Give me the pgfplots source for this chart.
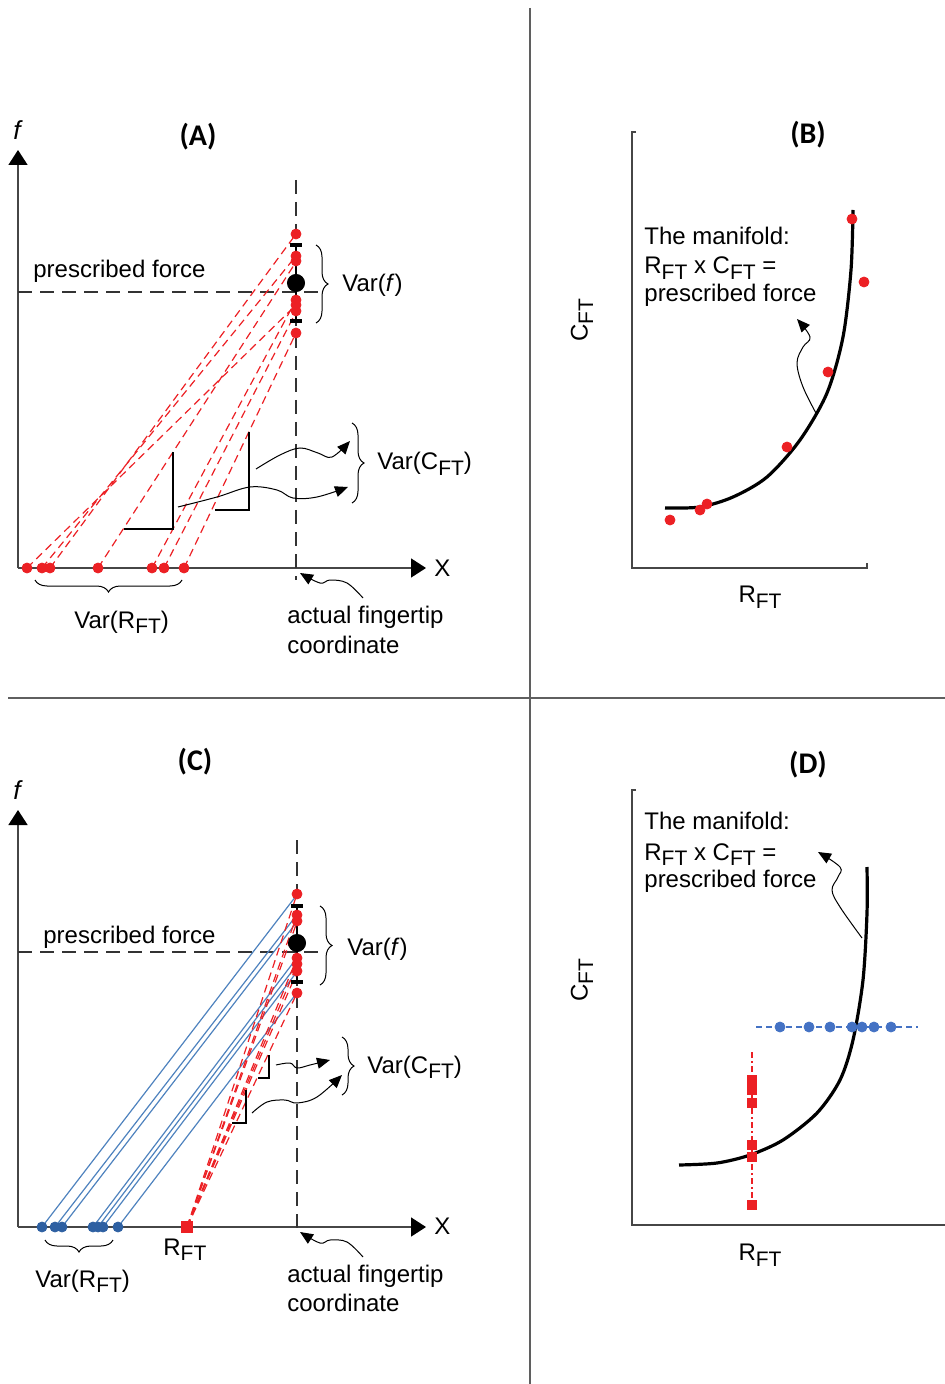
\documentclass[border=0pt]{standalone}
\usepackage{fontspec}
\setmainfont{Liberation Sans}
\newfontfamily\titlefont{Carlito}
\usepackage{pgfplots}
\pgfplotsset{compat=1.18}
\usetikzlibrary{arrows.meta,decorations.pathreplacing}
\definecolor{myred}{RGB}{236,32,36}
\definecolor{dotblue}{RGB}{46,96,162}
\definecolor{lineblue}{RGB}{78,130,190}
\definecolor{dblue}{RGB}{68,114,196}
\definecolor{axgray}{RGB}{70,70,70}
\definecolor{divgray}{RGB}{95,95,95}
\newcommand\sub[1]{\raisebox{-0.45ex}{\fontsize{10.5}{10}\selectfont #1}}
\tikzset{every node/.style={font=\fontsize{12}{14}\selectfont, inner sep=0pt}}
\pgfplotsset{
  rdash/.style={myred, line width=0.6pt, dash pattern=on 4pt off 2.5pt},
  kdash/.style={black!80, line width=0.8pt, dash pattern=on 7pt off 4pt},
  axl/.style={axgray, line width=0.8pt},
  axarrow/.style={axgray, line width=0.8pt, -{Triangle[width=9.5pt,length=7.5pt,color=black]}},
  wavy/.style={black, line width=0.5pt, smooth, tension=0.6, -{Triangle[width=5.5pt,length=6.5pt]}},
  rdot/.style={only marks, mark=*, mark size=2.5pt, myred, mark options={draw=myred, fill=myred}},
  brc/.style={black, line width=0.5pt, decorate, decoration={brace, amplitude=6pt}},
  rangle/.style={black, line width=1.1pt},
}
\begin{document}
\begin{tikzpicture}
\path[use as bounding box] (0,0) rectangle (472.5pt,692pt);
\begin{axis}[at={(0,0)}, anchor=south west, scale only axis, width=472.5pt, height=692pt,
  xmin=0, xmax=945, ymin=0, ymax=1384, y dir=reverse, hide axis, clip=false]

% dividers
\addplot[divgray, line width=1pt] coordinates {(530,8) (530,1384)};
\addplot[divgray, line width=1pt] coordinates {(8,698) (945,698)};

% ================= Panel A =================
\addplot[axarrow] coordinates {(18,568) (18,150)};
\addplot[axarrow] coordinates {(18,568) (426,568)};
\addplot[kdash] coordinates {(296,180) (296,580)};
\addplot[kdash] coordinates {(18,292) (322,292)};
% red dashed lines
\addplot[rdash] coordinates {(27,568) (296,305)};
\addplot[rdash] coordinates {(42,568) (296,256)};
\addplot[rdash] coordinates {(50,568) (296,234)};
\addplot[rdash] coordinates {(98,568) (296,262)};
\addplot[rdash] coordinates {(152,568) (296,300)};
\addplot[rdash] coordinates {(164,568) (296,312)};
\addplot[rdash] coordinates {(184,568) (296,333)};
% error bar and mean
\addplot[black, line width=1.2pt] coordinates {(296,245) (296,321)};
\addplot[black, line width=1.6pt] coordinates {(290,245) (302,245)};
\addplot[black, line width=1.6pt] coordinates {(290,321) (302,321)};
\addplot[rdot] coordinates {(296,234) (296,256) (296,261) (296,300) (296,305) (296,311) (296,333)};
\addplot[only marks, mark=*, mark size=4.3pt, black] coordinates {(296,283)};
\addplot[rdot] coordinates {(27,568) (42,568) (50,568) (98,568) (152,568) (164,568) (184,568)};
% right angles
\addplot[rangle] coordinates {(124,529) (173,529) (173,452)};
\addplot[rangle] coordinates {(215,510) (249,510) (249,432)};
% wavy arrows
\addplot[wavy] coordinates {(256,469) (280,455) (300,448) (318,453) (332,457) (350,441)};
\addplot[wavy] coordinates {(178,507) (217,497) (250,487) (277,490) (293,498) (317,497) (348,487)};
\addplot[wavy] coordinates {(363,598) (347,583) (330,580) (320,583) (300,573)};
% braces
\addplot[brc] coordinates {(316,245) (316,323)};
\addplot[brc] coordinates {(352,423) (352,503)};
\addplot[brc] coordinates {(182,580) (35,580)};
% texts
\node[font=\titlefont\bfseries\fontsize{15}{15}\selectfont] at (axis cs:198,137) {(A)};
\node[font=\itshape\fontsize{13}{13}\selectfont] at (axis cs:17,130) {f};
\node[anchor=base west] at (axis cs:33,278) {prescribed force};
\node[anchor=base west] at (axis cs:342,292) {Var(\textit{f})};
\node[anchor=base west] at (axis cs:377,470) {Var(C\sub{FT})};
\node[anchor=base west] at (axis cs:74,628) {Var(R\sub{FT})};
\node[anchor=base west] at (axis cs:287,623) {actual fingertip};
\node[anchor=base west] at (axis cs:287,653) {coordinate};
\node[anchor=base west] at (axis cs:434,576) {X};

% ================= Panel B =================
\addplot[axl] coordinates {(636,132) (632,132) (632,568) (867,568) (867,563)};
\addplot[black, line width=1.6pt, smooth] coordinates {(665,508) (700,507) (733,497) (767,477) (800,440) (827,393) (843,337) (851,270) (853,210)};
\addplot[rdot] coordinates {(670,520) (700,510) (707,504) (787,447) (828,372) (852,219) (864,282)};
\addplot[wavy] coordinates {(817,415) (803,387) (797,363) (803,347) (810,337) (797,319)};
\node[font=\titlefont\bfseries\fontsize{15}{15}\selectfont] at (axis cs:808,135) {(B)};
\node[anchor=base west] at (axis cs:644,245) {The manifold:};
\node[anchor=base west] at (axis cs:644,274) {R\sub{FT} x C\sub{FT} =};
\node[anchor=base west] at (axis cs:644,302) {prescribed force};
\node[rotate=90] at (axis cs:582,320) {C\sub{FT}};
\node at (axis cs:760,597) {R\sub{FT}};

% ================= Panel C =================
\addplot[axarrow] coordinates {(18,1227) (18,810)};
\addplot[axarrow] coordinates {(18,1227) (426,1227)};
\addplot[kdash] coordinates {(297,840) (297,1232)};
\addplot[kdash] coordinates {(18,952) (322,952)};
% blue lines
\addplot[lineblue, line width=0.6pt] coordinates {(42,1227) (296,896)};
\addplot[lineblue, line width=0.6pt] coordinates {(55,1227) (296,916)};
\addplot[lineblue, line width=0.6pt] coordinates {(62,1227) (296,923)};
\addplot[lineblue, line width=0.6pt] coordinates {(93,1227) (296,959)};
\addplot[lineblue, line width=0.6pt] coordinates {(98,1227) (296,966)};
\addplot[lineblue, line width=0.6pt] coordinates {(103,1227) (296,973)};
\addplot[lineblue, line width=0.6pt] coordinates {(118,1227) (296,994)};
% red dashed lines from R_FT
\addplot[rdash] coordinates {(187,1227) (297,894)};
\addplot[rdash] coordinates {(187,1227) (297,915)};
\addplot[rdash] coordinates {(187,1227) (297,922)};
\addplot[rdash] coordinates {(187,1227) (297,958)};
\addplot[rdash] coordinates {(187,1227) (297,965)};
\addplot[rdash] coordinates {(187,1227) (297,972)};
\addplot[rdash] coordinates {(187,1227) (297,993)};
% error bar and mean
\addplot[black, line width=1.2pt] coordinates {(297,906) (297,982)};
\addplot[black, line width=1.6pt] coordinates {(291,906) (303,906)};
\addplot[black, line width=1.6pt] coordinates {(291,982) (303,982)};
\addplot[rdot] coordinates {(297,894) (297,915) (297,921) (297,958) (297,964) (297,971) (297,993)};
\addplot[only marks, mark=*, mark size=4.3pt, black] coordinates {(297,943)};
\addplot[only marks, mark=*, mark size=2.5pt, dotblue] coordinates {(42,1227) (55,1227) (62,1227) (93,1227) (98,1227) (103,1227) (118,1227)};
\addplot[only marks, mark=square*, mark size=2.6pt, myred] coordinates {(187,1227)};
% right angles
\addplot[rangle] coordinates {(258,1078) (269,1078) (269,1055)};
\addplot[rangle] coordinates {(232,1123) (246,1123) (246,1090)};
% wavy arrows
\addplot[wavy] coordinates {(276,1065) (290,1063) (297,1068) (310,1065) (330,1060)};
\addplot[wavy] coordinates {(252,1113) (267,1102) (285,1100) (297,1103) (317,1097) (342,1075)};
\addplot[wavy] coordinates {(363,1257) (347,1242) (330,1240) (320,1243) (300,1232)};
% braces
\addplot[brc] coordinates {(320,906) (320,985)};
\addplot[brc] coordinates {(342,1037) (342,1095)};
\addplot[brc] coordinates {(113,1240) (45,1240)};
% texts
\node[font=\titlefont\bfseries\fontsize{15}{15}\selectfont] at (axis cs:195,762) {(C)};
\node[font=\itshape\fontsize{13}{13}\selectfont] at (axis cs:17,790) {f};
\node[anchor=base west] at (axis cs:43,943) {prescribed force};
\node[anchor=base west] at (axis cs:347,955) {Var(\textit{f})};
\node[anchor=base west] at (axis cs:367,1073) {Var(C\sub{FT})};
\node[anchor=base west] at (axis cs:35,1287) {Var(R\sub{FT})};
\node[anchor=base west] at (axis cs:163,1255) {R\sub{FT}};
\node[anchor=base west] at (axis cs:287,1282) {actual fingertip};
\node[anchor=base west] at (axis cs:287,1311) {coordinate};
\node[anchor=base west] at (axis cs:434,1234) {X};

% ================= Panel D =================
\addplot[axl] coordinates {(636,790) (632,790) (632,1225) (945,1225)};
\addplot[black, line width=1.6pt, smooth] coordinates {(679,1165) (717,1163) (750,1155) (783,1140) (817,1113) (840,1080) (853,1040) (863,980) (867,913) (867,867)};
\addplot[dblue, line width=0.7pt, dash pattern=on 3pt off 2pt] coordinates {(756,1027) (918,1027)};
\addplot[only marks, mark=*, mark size=2.5pt, dblue] coordinates {(780,1027) (809,1027) (830,1027) (852,1027) (862,1027) (874,1027) (891,1027)};
\addplot[myred, line width=0.7pt, dash pattern=on 3pt off 1.5pt on 1pt off 1.5pt] coordinates {(752,1052) (752,1208)};
\addplot[only marks, mark=square*, mark size=2.4pt, myred] coordinates {(752,1080) (752,1090) (752,1103) (752,1145) (752,1157) (752,1205)};
\addplot[wavy] coordinates {(862,938) (840,907) (832,890) (838,877) (840,867) (818,852)};
\node[font=\titlefont\bfseries\fontsize{15}{15}\selectfont] at (axis cs:808,765) {(D)};
\node[anchor=base west] at (axis cs:644,829) {The manifold:};
\node[anchor=base west] at (axis cs:644,860) {R\sub{FT} x C\sub{FT} =};
\node[anchor=base west] at (axis cs:644,887) {prescribed force};
\node[rotate=90] at (axis cs:582,980) {C\sub{FT}};
\node at (axis cs:760,1255) {R\sub{FT}};
\end{axis}
\end{tikzpicture}
\end{document}
